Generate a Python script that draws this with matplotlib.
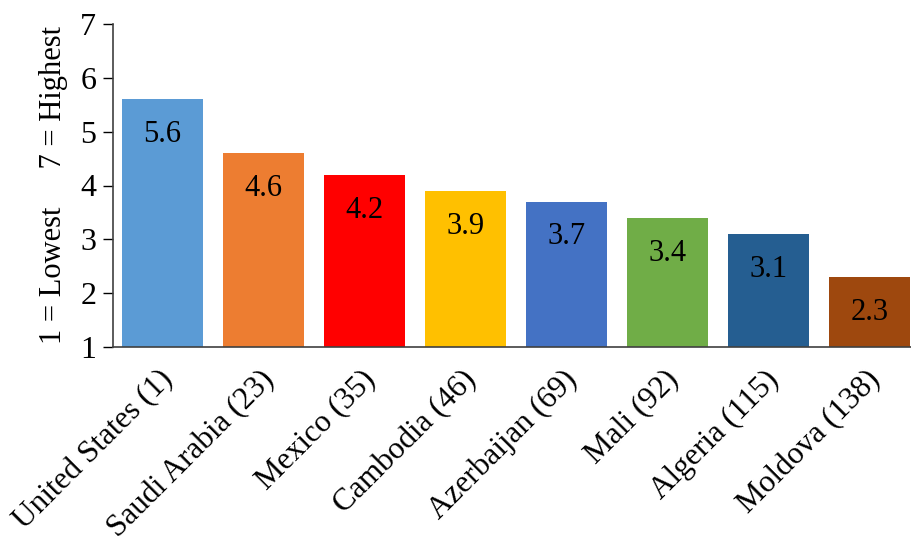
import matplotlib
matplotlib.use("Agg")
import matplotlib.pyplot as plt
import matplotlib.transforms as mtransforms

plt.rcParams['font.family'] = ['Liberation Serif', 'DejaVu Serif']

countries = ["United States (1)", "Saudi Arabia (23)", "Mexico (35)", "Cambodia (46)",
             "Azerbaijan (69)", "Mali (92)", "Algeria (115)", "Moldova (138)"]
scores = [5.6, 4.6, 4.2, 3.9, 3.7, 3.4, 3.1, 2.3]
colors = ["#5B9BD5", "#ED7D31", "#FF0000", "#FFC000",
          "#4472C4", "#70AD47", "#255E91", "#9E480E"]

fig = plt.figure(figsize=(9.11, 5.42), dpi=100)
ax = fig.add_axes([113 / 911, 195 / 542, 808 / 911, 323 / 542])

x = range(len(countries))
bars = ax.bar(x, [s - 1 for s in scores], bottom=1, width=0.8, color=colors)

for b, s in zip(bars, scores):
    ax.annotate(f"{s:.1f}", (b.get_x() + b.get_width() / 2, b.get_y() + b.get_height()),
                xytext=(0, -15), textcoords="offset points",
                ha="center", va="top", fontsize=22, color="black")

ax.set_xlim(-0.49, 7.51)
ax.set_ylim(1, 7)
ax.set_yticks(range(1, 8))
ax.tick_params(axis="y", labelsize=23, length=7, width=1, direction="out", pad=5)
ax.tick_params(axis="x", length=0, pad=13)
ax.set_xticks(list(x))
ax.set_xticklabels(countries, rotation=45, ha="right", va="top",
                   rotation_mode="anchor", fontsize=22.5)
shift = mtransforms.ScaledTranslation(-4 / 100, 0, fig.dpi_scale_trans)
for lbl in ax.get_xticklabels():
    lbl.set_transform(lbl.get_transform() + shift)

ax.set_ylabel("1 = Lowest     7 = Highest", fontsize=22, labelpad=9)

for side in ["top", "right"]:
    ax.spines[side].set_visible(False)
for side in ["left", "bottom"]:
    ax.spines[side].set_color("#404040")
    ax.spines[side].set_linewidth(1.2)

fig.savefig("out.png", dpi=100)
